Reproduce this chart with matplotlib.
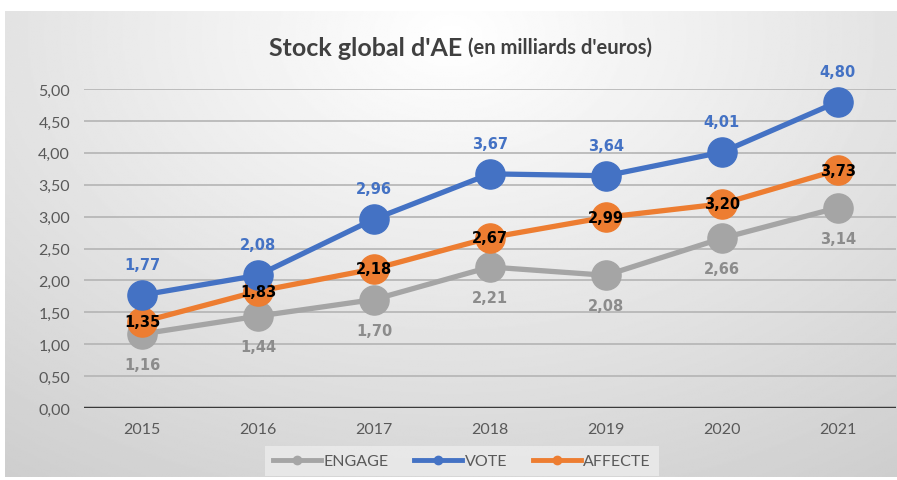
import numpy as np
import matplotlib.pyplot as plt
from matplotlib.lines import Line2D

years = ["2015", "2016", "2017", "2018", "2019", "2020", "2021"]
engage = [1.16, 1.44, 1.70, 2.21, 2.08, 2.66, 3.14]
vote = [1.77, 2.08, 2.96, 3.67, 3.64, 4.01, 4.80]
affecte = [1.35, 1.83, 2.18, 2.67, 2.99, 3.20, 3.73]

C_ENG = '#a5a5a5'
C_VOTE = '#4472c4'
C_AFF = '#ed7d31'
TXT = '#595959'
NARROW = ['Liberation Sans Narrow', 'Lato', 'DejaVu Sans']


def fr(v):
    return f"{v:.2f}".replace('.', ',')


fig = plt.figure(figsize=(8.97, 4.81), dpi=100, facecolor='white')

# radial gray background of the chart frame
bg = fig.add_axes([5 / 897, 3 / 481, 892 / 897, 466 / 481])
yy, xx = np.mgrid[0:1:300j, 0:1:600j]
r = np.sqrt(((xx - 0.5) / 0.75) ** 2 + ((yy - 0.05) / 1.0) ** 2)
shade = 1.0 - 0.2 * np.clip(r, 0, 1.2) / 1.2
bg.imshow(shade, cmap='gray', vmin=0, vmax=1, aspect='auto', extent=[0, 1, 1, 0])
bg.set_axis_off()

ax = fig.add_axes([84 / 897, 1 - 409 / 481, 812 / 897, 319 / 481])
ax.patch.set_alpha(0)
x = np.arange(len(years))

ax.set_xlim(-0.5, len(years) - 0.5)
ax.set_ylim(0, 5)
ax.set_yticks(np.arange(0, 5.01, 0.5))
ax.set_yticklabels([fr(v) for v in np.arange(0, 5.01, 0.5)])
ax.set_xticks(x)
ax.set_xticklabels(years)
ax.grid(axis='y', color='#b4b4b4', linewidth=1.2)
ax.set_axisbelow(True)
for s in ax.spines.values():
    s.set_visible(False)
ax.axhline(0, color='#3a3a3a', linewidth=2.5, zorder=1)
ax.tick_params(length=0, labelsize=11.5, colors=TXT, pad=10)
for lab in ax.get_xticklabels() + ax.get_yticklabels():
    lab.set_family(NARROW)

kw = dict(linewidth=3.8, marker='o', markersize=21, clip_on=False, zorder=3)
ax.plot(x, engage, color=C_ENG, **kw)
ax.plot(x, affecte, color=C_AFF, **kw)
ax.plot(x, vote, color=C_VOTE, **kw)

for xi, v in zip(x, vote):
    ax.annotate(fr(v), (xi, v), xytext=(0, 22), textcoords='offset points',
                ha='center', va='center', color=C_VOTE, fontsize=10.5,
                fontweight='bold', zorder=5)
for xi, v in zip(x, affecte):
    ax.annotate(fr(v), (xi, v), xytext=(0, 0), textcoords='offset points',
                ha='center', va='center', color='black', fontsize=10.5,
                fontweight='bold', zorder=5)
for xi, v in zip(x, engage):
    ax.annotate(fr(v), (xi, v), xytext=(0, -22), textcoords='offset points',
                ha='center', va='center', color='#8c8c8c', fontsize=10.5,
                fontweight='bold', zorder=5)

ty = 1 - 48 / 481
fig.text(468 / 897, ty, "Stock global d'AE ", ha='right', va='center',
         fontsize=18, fontweight='bold', color='#404040', family=['Lato', 'DejaVu Sans'])
fig.text(468 / 897, ty, "(en milliards d'euros)", ha='left', va='center',
         fontsize=14.5, fontweight='bold', color='#404040', family=['Lato', 'DejaVu Sans'])

handles = [Line2D([0], [0], color=c, linewidth=3.5, marker='o', markersize=6)
           for c in (C_ENG, C_VOTE, C_AFF)]
leg = fig.legend(handles, ['ENGAGE', 'VOTE', 'AFFECTE'], loc='center',
                 bbox_to_anchor=(462 / 897, 1 - 462 / 481), ncol=3, frameon=True,
                 facecolor='#ececec', edgecolor='none', fancybox=False,
                 handlelength=3.0, handletextpad=0.15, columnspacing=1.6,
                 borderpad=0.5, prop={'family': NARROW, 'size': 11.5})
for t in leg.get_texts():
    t.set_color(TXT)

fig.savefig('out.png', dpi=100, facecolor='white')
